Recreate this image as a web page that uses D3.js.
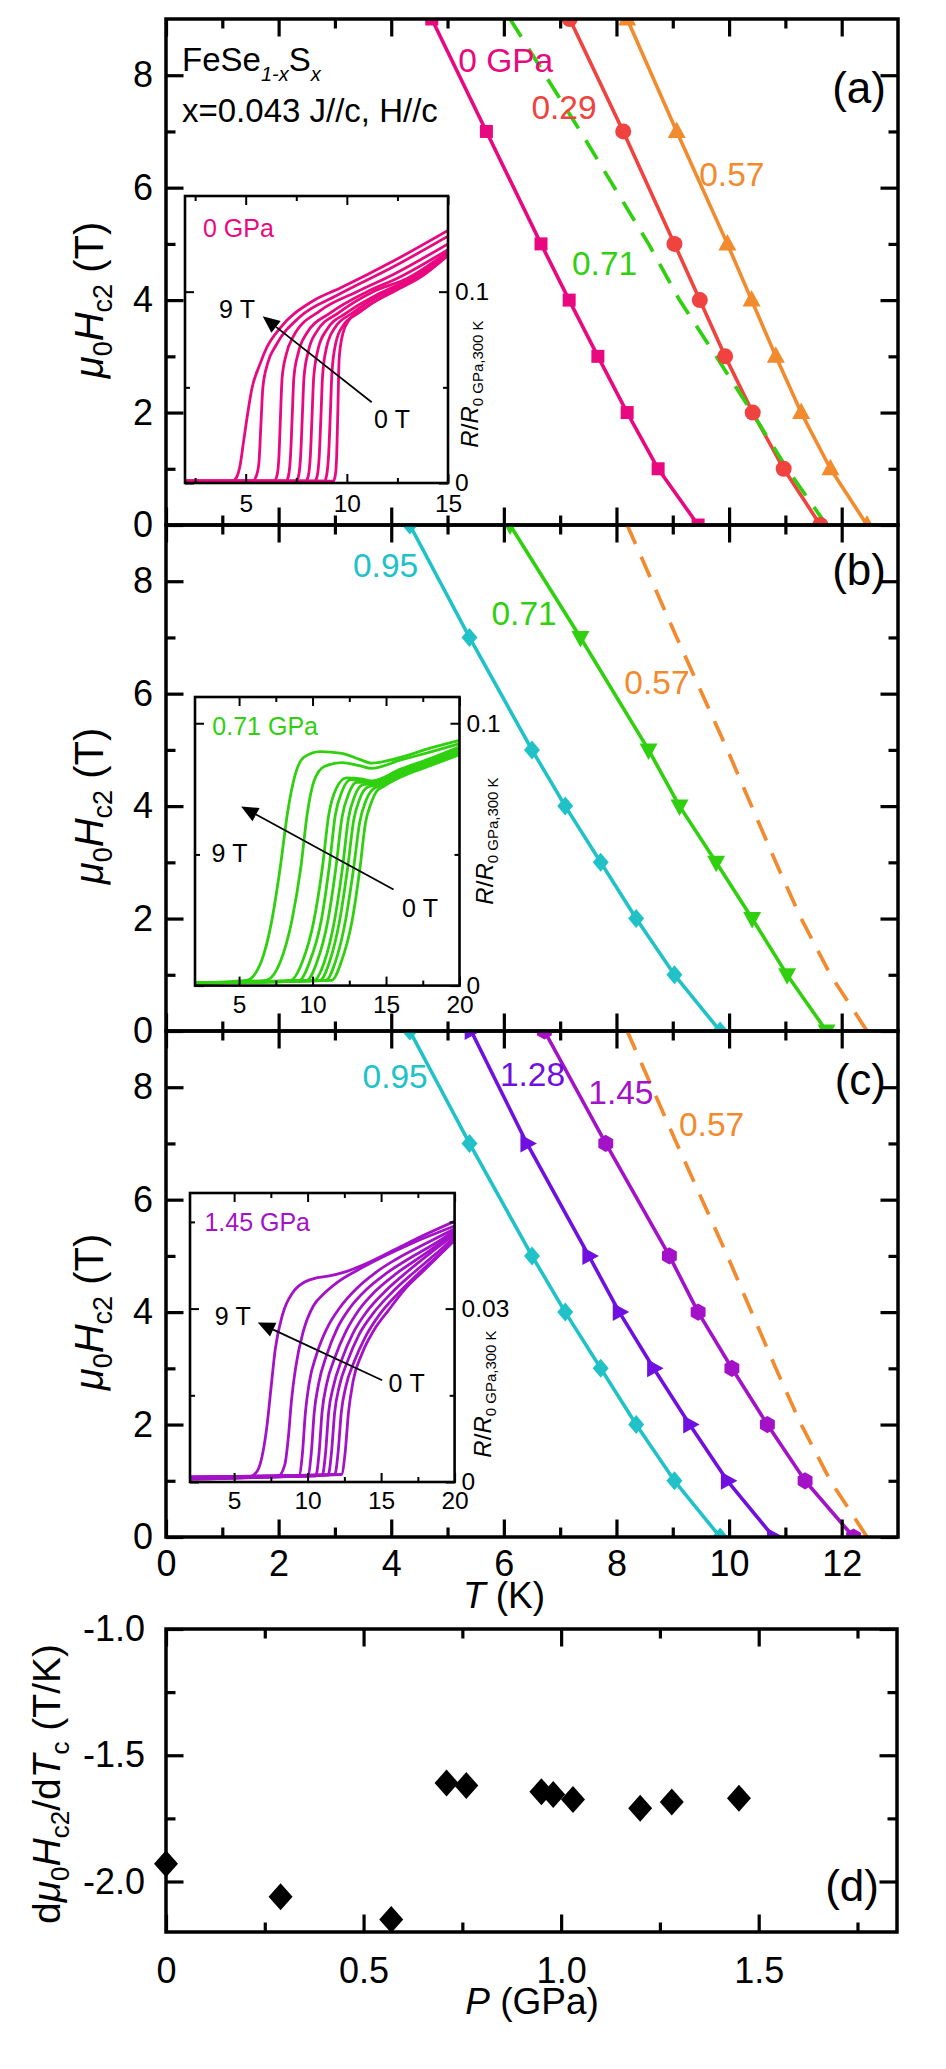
<!DOCTYPE html>
<html><head><meta charset="utf-8">
<script src="https://d3js.org/d3.v7.min.js"></script>
<style>html,body{margin:0;padding:0;background:#fff;}svg{display:block;}</style>
</head><body>
<svg id="chart" width="946" height="2069" xmlns="http://www.w3.org/2000/svg"></svg>
<script>
// ================= DATA =================
// applied magnetic field (T) for every Tc point of the Hc2(T) series
const fieldsT = [0, 1, 2, 3, 4, 5, 7, 9];
// Tc (K) at each field, one array per pressure
const tc_0GPa   = [9.45, 8.74, 8.19, 7.67, 7.16, 6.66, 5.69, 4.72];
const tc_029GPa = [11.62, 10.97, 10.42, 9.93, 9.48, 9.03, 8.12, 7.17];
const tc_057GPa = [12.45, 11.80, 11.28, 10.83, 10.40, 9.97, 9.07, 8.19];
const tc_071GPa = [11.73, 11.03, 10.41, 9.77, 9.12, 8.57, 7.36, 6.11];
const tc_095GPa = [9.84, 9.03, 8.35, 7.72, 7.09, 6.50, 5.39, 4.33];
const tc_128GPa = [10.79, 9.97, 9.30, 8.66, 8.05, 7.51, 6.41, 5.42];
const tc_145GPa = [12.21, 11.35, 10.68, 10.05, 9.45, 8.94, 7.81, 6.72];

const tTicks = [0, 2, 4, 6, 8, 10, 12];
const tMinor = [1, 3, 5, 7, 9, 11];
const hTicks = [0, 2, 4, 6, 8];
const hMinor = [1, 3, 5, 7];

// panel (d)
const pressureGPa = [0, 0.29, 0.57, 0.71, 0.76, 0.95, 0.98, 1.03, 1.20, 1.28, 1.45];
const slopeTK     = [-1.93, -2.06, -2.15, -1.61, -1.62, -1.645, -1.655, -1.675, -1.71, -1.685, -1.67];
const pTicks = [0, 0.5, 1.0, 1.5];
const pMinor = [0.25, 0.75, 1.25, 1.75];
const slopeTicks = [-2.0, -1.5, -1.0];
const slopeMinor = [-1.75, -1.25];

// inset (a): 0 GPa, R/R vs T  [T (K), R]
const rA_9T  = [[2,0.001],[4.35,0.001],[4.55,0.003],[4.72,0.009],[4.9,0.022],[5.05,0.033],[5.3,0.049],[5.7,0.062],[6.05,0.071],[6.7,0.081],[8.3,0.095],[9.7,0.102],[12.3,0.116],[15,0.132]];
const rA_7T  = [[2,0.001],[5.35,0.001],[5.5,0.003],[5.65,0.01],[5.75,0.03],[5.85,0.05],[6.1,0.063],[6.5,0.072],[7.7,0.087],[9.5,0.098],[12.3,0.113],[15,0.129]];
const rA_5T  = [[2,0.001],[6.4,0.001],[6.55,0.004],[6.65,0.015],[6.72,0.035],[6.8,0.055],[7.0,0.067],[7.35,0.0765],[8.67,0.09],[10.5,0.1],[12.3,0.109],[15,0.125]];
const rA_4T  = [[2,0.001],[7.0,0.001],[7.12,0.004],[7.22,0.015],[7.3,0.035],[7.38,0.055],[7.6,0.068],[8.0,0.078],[9.2,0.089],[11,0.1],[12.5,0.107],[15,0.122]];
const rA_3T  = [[2,0.001],[7.5,0.001],[7.62,0.004],[7.72,0.015],[7.8,0.035],[7.88,0.055],[8.1,0.069],[8.5,0.079],[9.6,0.089],[11.3,0.1],[13,0.107],[15,0.121]];
const rA_2T  = [[2,0.001],[7.98,0.001],[8.1,0.004],[8.2,0.015],[8.28,0.035],[8.36,0.055],[8.58,0.07],[9.0,0.08],[10.0,0.089],[11.6,0.099],[13.2,0.107],[15,0.12]];
const rA_1T  = [[2,0.001],[8.42,0.001],[8.54,0.004],[8.64,0.015],[8.72,0.035],[8.8,0.056],[9.0,0.071],[9.4,0.081],[10.3,0.089],[11.8,0.099],[13.4,0.107],[15,0.12]];
const rA_05T = [[2,0.001],[8.9,0.001],[9.0,0.004],[9.1,0.015],[9.18,0.035],[9.26,0.057],[9.45,0.073],[9.8,0.082],[10.6,0.089],[12,0.099],[13.5,0.107],[15,0.119]];
const rA_0T  = [[2,0.001],[9.33,0.001],[9.43,0.004],[9.5,0.015],[9.56,0.04],[9.62,0.065],[9.8,0.078],[10.1,0.085],[10.8,0.091],[12.3,0.1],[13.7,0.108],[15,0.119]];

// inset (b): 0.71 GPa
const rB_9T  = [[2,0.001],[5.5,0.002],[6.5,0.009],[7.2,0.024],[7.8,0.045],[8.3,0.066],[8.8,0.08],[9.4,0.087],[10.5,0.0892],[12,0.0885],[13.2,0.0862],[14,0.0848],[16,0.087],[18,0.0905],[20,0.0935]];
const rB_7T  = [[2,0.001],[6.8,0.002],[7.8,0.009],[8.6,0.025],[9.2,0.045],[9.65,0.066],[10.1,0.078],[10.8,0.0835],[12,0.085],[13.2,0.0838],[14,0.0828],[16,0.086],[18,0.089],[20,0.0922]];
const rB_5T  = [[2,0.001],[8.5,0.002],[9.3,0.009],[10.1,0.025],[10.67,0.045],[11.1,0.065],[11.6,0.075],[12.3,0.0792],[13.3,0.0788],[14,0.078],[16,0.0825],[18,0.0865],[20,0.091]];
const rB_4T  = [[2,0.001],[9.1,0.002],[9.8,0.009],[10.6,0.025],[11.13,0.045],[11.55,0.065],[12.0,0.074],[12.6,0.0785],[13.4,0.0782],[14.1,0.0778],[16,0.082],[18,0.086],[20,0.0905]];
const rB_3T  = [[2,0.001],[9.6,0.002],[10.3,0.009],[11.05,0.025],[11.59,0.045],[12.0,0.064],[12.45,0.073],[13.0,0.0775],[13.6,0.0775],[14.2,0.0775],[16,0.0815],[18,0.0855],[20,0.09]];
const rB_2T  = [[2,0.001],[10.1,0.002],[10.8,0.009],[11.5,0.025],[12.04,0.045],[12.45,0.064],[12.85,0.072],[13.4,0.0765],[14.2,0.077],[16,0.081],[18,0.085],[20,0.0895]];
const rB_1T  = [[2,0.001],[10.5,0.002],[11.15,0.009],[11.85,0.025],[12.39,0.045],[12.8,0.063],[13.2,0.071],[13.7,0.0755],[14.3,0.0765],[16,0.0805],[18,0.0845],[20,0.089]];
const rB_05T = [[2,0.001],[10.9,0.002],[11.55,0.009],[12.25,0.025],[12.8,0.045],[13.2,0.062],[13.6,0.07],[14.1,0.0748],[14.6,0.0762],[16,0.08],[18,0.084],[20,0.0885]];
const rB_0T  = [[2,0.001],[11.3,0.002],[11.95,0.009],[12.7,0.025],[13.23,0.045],[13.6,0.062],[13.95,0.069],[14.35,0.074],[14.8,0.0758],[16,0.0795],[18,0.0838],[20,0.088]];

// inset (c): 1.45 GPa
const rC_9T  = [[2,0.0005],[6.0,0.0008],[6.6,0.002],[6.95,0.005],[7.25,0.01],[7.5,0.016],[7.8,0.023],[8.3,0.029],[9.0,0.0328],[9.8,0.0346],[10.6,0.0353],[11.4,0.0356],[12.5,0.0363],[14,0.0378],[16,0.0403],[18,0.0428],[20,0.0451]];
const rC_7T  = [[2,0.0005],[8.0,0.001],[8.45,0.003],[8.7,0.008],[8.9,0.014],[9.2,0.02],[9.7,0.026],[10.4,0.0305],[11,0.0323],[12,0.0345],[13.5,0.0368],[15,0.0388],[17,0.0412],[20,0.0443]];
const rC_5T  = [[2,0.0006],[9.4,0.001],[9.65,0.005],[9.85,0.012],[10.1,0.017],[10.6,0.022],[11.3,0.0265],[12.2,0.0302],[13.3,0.0334],[14.6,0.0362],[16,0.0385],[18,0.0412],[20,0.0438]];
const rC_4T  = [[2,0.0007],[10.0,0.001],[10.25,0.005],[10.45,0.012],[10.75,0.017],[11.3,0.022],[12.0,0.0265],[12.9,0.0302],[14.0,0.0333],[15.3,0.036],[17,0.0388],[18.5,0.041],[20,0.0435]];
const rC_3T  = [[2,0.0007],[10.55,0.001],[10.78,0.005],[10.98,0.012],[11.3,0.017],[11.85,0.0215],[12.6,0.026],[13.5,0.0298],[14.6,0.033],[16,0.036],[18,0.0395],[20,0.0432]];
const rC_2T  = [[2,0.0008],[11.0,0.0012],[11.22,0.005],[11.43,0.012],[11.75,0.0165],[12.3,0.021],[13.1,0.0258],[14.0,0.0294],[15.2,0.0328],[16.6,0.036],[18.3,0.0395],[20,0.0428]];
const rC_1T  = [[2,0.0008],[11.4,0.0012],[11.62,0.005],[11.84,0.012],[12.15,0.0165],[12.7,0.0208],[13.5,0.0255],[14.5,0.0293],[15.7,0.0327],[17.2,0.0362],[18.6,0.0392],[20,0.0424]];
const rC_05T = [[2,0.0009],[11.85,0.0013],[12.07,0.005],[12.29,0.012],[12.6,0.0165],[13.15,0.0207],[13.95,0.0252],[14.9,0.029],[16.1,0.0325],[17.5,0.036],[18.8,0.039],[20,0.042]];
const rC_0T  = [[2,0.0009],[12.3,0.0013],[12.55,0.005],[12.78,0.012],[13.1,0.0175],[13.7,0.0222],[14.5,0.0262],[15.5,0.0297],[16.6,0.0333],[18,0.0368],[20,0.0418]];

// ================= STYLE =================
const FONT = "'Liberation Sans', Arial, Helvetica, sans-serif";
const C = {p0:'#e8087f', p029:'#f0423e', p057:'#f28a2e', p071:'#30d010', p095:'#20c2c8', p128:'#7010e0', p145:'#a412c8'};

const svg = d3.select('#chart').attr('font-family', FONT);
svg.append('rect').attr('width', 946).attr('height', 2069).attr('fill', '#fff');
const defs = svg.append('defs');

// marker shapes
function markerPath(type) {
  switch (type) {
    case 'square': return 'M-6.5,-6.5H6.5V6.5H-6.5Z';
    case 'circle': return d3.symbol(d3.symbolCircle, Math.PI * 8 * 8)();
    case 'triUp': return 'M0,-10L9,6.5L-9,6.5Z';
    case 'triDown': return 'M0,10L9,-6.5L-9,-6.5Z';
    case 'triRight': return 'M10,0L-6.5,-9L-6.5,9Z';
    case 'diamond': return 'M0,-9.5L8,0L0,9.5L-8,0Z';
    case 'bigDiamond': return 'M0,-13.5L12,0L0,13.5L-12,0Z';
    case 'hexagon': {
      const r = 8.6; const pts = d3.range(6).map(i => { const a = (-90 + 60 * i) * Math.PI / 180; return [r * Math.cos(a), r * Math.sin(a)]; });
      return 'M' + pts.map(p => p.join(',')).join('L') + 'Z';
    }
  }
}

function drawTicks(g, xs, ys, o) {
  const [xl, xr] = xs.range(); const [yb, yt] = ys.range();
  const add = (axisFn, scale, vals, len, tr, fmt, pad) => {
    const ax = axisFn(scale).tickValues(vals).tickSize(-len).tickPadding(pad || 0)
      .tickFormat(fmt ? fmt : () => '');
    const a = g.append('g').attr('transform', tr).call(ax);
    a.attr('font-family', null).attr('font-size', null);
    a.select('.domain').remove();
    a.selectAll('line').attr('stroke', '#000').attr('stroke-width', o.tickW);
    if (fmt) a.selectAll('text').attr('font-size', o.fs).attr('fill', '#000');
    else a.selectAll('text').remove();
  };
  add(d3.axisBottom, xs, o.xMaj, o.maj, `translate(0,${yb})`, o.xFmt, o.xPad);
  add(d3.axisBottom, xs, o.xMin, o.min, `translate(0,${yb})`);
  add(d3.axisTop, xs, o.xMaj, o.maj, `translate(0,${yt})`);
  add(d3.axisTop, xs, o.xMin, o.min, `translate(0,${yt})`);
  add(d3.axisLeft, ys, o.yMaj, o.maj, `translate(${xl},0)`, o.yLeftFmt, o.yPad);
  add(d3.axisLeft, ys, o.yMin, o.min, `translate(${xl},0)`);
  add(d3.axisRight, ys, o.yMaj, o.maj, `translate(${xr},0)`, o.yRightFmt, o.yPad);
  add(d3.axisRight, ys, o.yMin, o.min, `translate(${xr},0)`);
  g.append('rect').attr('x', xl).attr('y', yt).attr('width', xr - xl).attr('height', yb - yt)
    .attr('fill', 'none').attr('stroke', '#000').attr('stroke-width', o.borderW);
}

// ================= MAIN PANELS (a)-(c) =================
const xT = d3.scaleLinear().domain([0, 13]).range([166, 898]);
const PANEL_H = 506;
const panelTops = [19, 525, 1031];

const panels = [
  { tag: '(a)', tagY: 83.5,
    series: [
      { tc: tc_0GPa, color: C.p0, marker: 'square' },
      { tc: tc_029GPa, color: C.p029, marker: 'circle' },
      { tc: tc_057GPa, color: C.p057, marker: 'triUp' },
      { tc: tc_071GPa, color: C.p071, dashed: true }
    ],
    notes: [ ['0 GPa', 5.19, 8.05, C.p0], ['0.29', 6.49, 7.22, C.p029], ['0.57', 9.47, 6.03, C.p057], ['0.71', 7.21, 4.45, C.p071] ] },
  { tag: '(b)', tagY: 59.5,
    series: [
      { tc: tc_095GPa, color: C.p095, marker: 'diamond' },
      { tc: tc_071GPa, color: C.p071, marker: 'triDown' },
      { tc: tc_057GPa, color: C.p057, dashed: true }
    ],
    notes: [ ['0.95', 3.32, 8.08, C.p095], ['0.71', 5.78, 7.22, C.p071], ['0.57', 8.14, 5.99, C.p057] ] },
  { tag: '(c)', tagY: 63.5,
    series: [
      { tc: tc_095GPa, color: C.p095, marker: 'diamond' },
      { tc: tc_128GPa, color: C.p128, marker: 'triRight' },
      { tc: tc_145GPa, color: C.p145, marker: 'hexagon' },
      { tc: tc_057GPa, color: C.p057, dashed: true }
    ],
    notes: [ ['0.95', 3.49, 7.99, C.p095], ['1.28', 5.93, 8.02, C.p128], ['1.45', 7.50, 7.71, C.p145], ['0.57', 9.11, 7.14, C.p057] ] }
];

panels.forEach((p, i) => {
  const top = panelTops[i];
  const yH = d3.scaleLinear().domain([0, 9]).range([top + PANEL_H, top]);
  const g = svg.append('g');
  const cid = 'clipP' + i;
  defs.append('clipPath').attr('id', cid).append('rect')
    .attr('x', xT.range()[0]).attr('y', top).attr('width', xT.range()[1] - xT.range()[0]).attr('height', PANEL_H);
  const plot = g.append('g').attr('clip-path', `url(#${cid})`);
  const line = d3.line().x(d => xT(d[0])).y(d => yH(d[1]));
  const solid = p.series.filter(s => !s.dashed), dashed = p.series.filter(s => s.dashed);
  solid.forEach(s => {
    const pts = fieldsT.map((h, k) => [s.tc[k], h]);
    plot.append('path').attr('d', line(pts)).attr('fill', 'none').attr('stroke', s.color)
      .attr('stroke-width', 3.6).attr('stroke-linejoin', 'round');
  });
  dashed.forEach(s => {
    const pts = fieldsT.map((h, k) => [s.tc[k], h]);
    plot.append('path').attr('d', line(pts)).attr('fill', 'none').attr('stroke', s.color)
      .attr('stroke-width', 3.7).attr('stroke-dasharray', '22,14');
  });
  solid.forEach(s => {
    const pts = fieldsT.map((h, k) => [s.tc[k], h]);
    plot.selectAll(null).data(pts).join('path')
      .attr('transform', d => `translate(${xT(d[0])},${yH(d[1])})`)
      .attr('d', markerPath(s.marker)).attr('fill', s.color);
  });
  // labels on curves
  p.notes.forEach(n => {
    g.append('text').attr('x', xT(n[1])).attr('y', yH(n[2])).attr('font-size', 33.5).attr('fill', n[3]).text(n[0]);
  });
  drawTicks(g, xT, yH, { xMaj: tTicks, xMin: tMinor, yMaj: hTicks, yMin: hMinor, maj: 17.5, min: 9.5,
    tickW: 3.2, borderW: 3.5, fs: 36,
    xFmt: i === 2 ? d3.format('d') : null, xPad: 13,
    yLeftFmt: d3.format('d'), yRightFmt: null, yPad: 13 });
  // panel tag
  g.append('text').attr('x', 886).attr('y', top + p.tagY).attr('text-anchor', 'end').attr('font-size', 44).text(p.tag);
  // y axis title
  const t = svg.append('text').attr('transform', `translate(103,${top + PANEL_H / 2 + 28}) rotate(-90)`)
    .attr('text-anchor', 'middle').attr('font-size', 40);
  t.append('tspan').attr('font-style', 'italic').text('μ');
  t.append('tspan').attr('font-size', 27).attr('dy', 9).text('0');
  t.append('tspan').attr('font-style', 'italic').attr('dy', -9).text('H');
  t.append('tspan').attr('font-size', 27).attr('dy', 9).text('c2');
  t.append('tspan').attr('dy', -9).text('\u00A0(T)');
});

// composition text in (a)
{
  const t1 = svg.append('text').attr('x', 182).attr('y', 71).attr('font-size', 33);
  t1.append('tspan').text('FeSe');
  t1.append('tspan').attr('font-size', 20).attr('font-style', 'italic').attr('dy', 10).text('1-x');
  t1.append('tspan').attr('dy', -10).text('S');
  t1.append('tspan').attr('font-size', 20).attr('font-style', 'italic').attr('dy', 10).text('x');
  svg.append('text').attr('x', 182).attr('y', 122).attr('font-size', 33).text('x=0.043 J//c, H//c');
}

// T axis title
{
  const t = svg.append('text').attr('x', 504).attr('y', 1608).attr('text-anchor', 'middle').attr('font-size', 37);
  t.append('tspan').attr('font-style', 'italic').text('T');
  t.append('tspan').text('\u00A0(K)');
}

// ================= INSETS =================
const insets = [
  { x0: 185, x1: 448, y0: 196, y1: 483, xDom: [2, 15], yDom: [0, 0.15],
    xMaj: [5, 10, 15], xMin: [2.5, 7.5, 12.5], yMaj: [0, 0.1], yMin: [0.05],
    color: C.p0, curves: [rA_9T, rA_7T, rA_5T, rA_4T, rA_3T, rA_2T, rA_1T, rA_05T, rA_0T],
    title: ['0 GPa', 2.89, 0.1284], nine: [3.68, 0.0862], zero: [11.34, 0.029],
    arrow: [[11.23, 0.0422], [5.84, 0.0871]], rLabel: [478, 384], xPad: 12 },
  { x0: 195, x1: 459.5, y0: 697, y1: 985.6, xDom: [2, 20], yDom: [0, 0.11],
    xMaj: [5, 10, 15, 20], xMin: [7.5, 12.5, 17.5], yMaj: [0, 0.1], yMin: [0.05],
    color: C.p071, curves: [rB_9T, rB_7T, rB_5T, rB_4T, rB_3T, rB_2T, rB_1T, rB_05T, rB_0T],
    title: ['0.71 GPa', 3.18, 0.0956], nine: [3.12, 0.0472], zero: [16.08, 0.0261],
    arrow: [[15.51, 0.0366], [5.14, 0.0683]], rLabel: [493, 841], xPad: 10 },
  { x0: 190, x1: 454.6, y0: 1193, y1: 1482, xDom: [2, 20], yDom: [0, 0.05],
    xMaj: [5, 10, 15, 20], xMin: [7.5, 12.5, 17.5], yMaj: [0, 0.03], yMin: [0.015, 0.045],
    color: C.p145, curves: [rC_9T, rC_7T, rC_5T, rC_4T, rC_3T, rC_2T, rC_1T, rC_05T, rC_0T],
    title: ['1.45 GPa', 2.98, 0.0435], nine: [3.68, 0.0272], zero: [15.51, 0.0155],
    arrow: [[15.07, 0.0176], [6.61, 0.0276]], rLabel: [490.5, 1394], xPad: 10 }
];

insets.forEach((ins, i) => {
  const xs = d3.scaleLinear().domain(ins.xDom).range([ins.x0, ins.x1]);
  const ys = d3.scaleLinear().domain(ins.yDom).range([ins.y1, ins.y0]);
  const g = svg.append('g');
  g.append('rect').attr('x', ins.x0).attr('y', ins.y0).attr('width', ins.x1 - ins.x0).attr('height', ins.y1 - ins.y0).attr('fill', '#fff');
  const cid = 'clipI' + i;
  defs.append('clipPath').attr('id', cid).append('rect')
    .attr('x', ins.x0).attr('y', ins.y0).attr('width', ins.x1 - ins.x0).attr('height', ins.y1 - ins.y0);
  const plot = g.append('g').attr('clip-path', `url(#${cid})`);
  const line = d3.line().x(d => xs(d[0])).y(d => ys(d[1])).curve(d3.curveMonotoneX);
  ins.curves.forEach(c => {
    plot.append('path').attr('d', line(c)).attr('fill', 'none').attr('stroke', ins.color).attr('stroke-width', 2.8);
  });
  drawTicks(g, xs, ys, { xMaj: ins.xMaj, xMin: ins.xMin, yMaj: ins.yMaj, yMin: ins.yMin, maj: 9, min: 5,
    tickW: 2, borderW: 2.6, fs: 24.5, xFmt: d3.format('d'), xPad: ins.xPad,
    yLeftFmt: null, yRightFmt: d => d === 0 ? '0' : String(d), yPad: 7 });
  g.append('text').attr('x', xs(ins.title[1])).attr('y', ys(ins.title[2])).attr('font-size', 25).attr('fill', ins.color).text(ins.title[0]);
  g.append('text').attr('x', xs(ins.nine[0])).attr('y', ys(ins.nine[1])).attr('font-size', 25).text('9\u00A0T');
  g.append('text').attr('x', xs(ins.zero[0])).attr('y', ys(ins.zero[1])).attr('font-size', 25).text('0\u00A0T');
  // arrow 0 T -> 9 T
  const [a0, a1] = ins.arrow.map(d => [xs(d[0]), ys(d[1])]);
  const dx = a1[0] - a0[0], dy = a1[1] - a0[1], L = Math.hypot(dx, dy);
  const ux = dx / L, uy = dy / L, nx = -uy, ny = ux, hl = 17, hw = 7.5;
  const bx = a1[0] - ux * hl, by = a1[1] - uy * hl;
  g.append('line').attr('x1', a0[0]).attr('y1', a0[1]).attr('x2', bx).attr('y2', by).attr('stroke', '#000').attr('stroke-width', 1.7);
  g.append('path').attr('d', `M${a1[0]},${a1[1]}L${bx + nx * hw},${by + ny * hw}L${bx - nx * hw},${by - ny * hw}Z`).attr('fill', '#000');
  // R/R label (right side)
  const t = svg.append('text').attr('transform', `translate(${ins.rLabel[0]},${ins.rLabel[1]}) rotate(-90)`)
    .attr('text-anchor', 'middle').attr('font-size', 24);
  t.append('tspan').attr('font-style', 'italic').text('R');
  t.append('tspan').text('/');
  t.append('tspan').attr('font-style', 'italic').text('R');
  t.append('tspan').attr('font-size', 15).attr('dy', 5).text('0 GPa,300 K');
});

// ================= PANEL (d) =================
{
  const xP = d3.scaleLinear().domain([0, 1.85]).range([166, 897]);
  const yS = d3.scaleLinear().domain([-2.2, -1.0]).range([1932, 1629]);
  const g = svg.append('g');
  const pts = pressureGPa.map((p, k) => [p, slopeTK[k]]);
  g.selectAll(null).data(pts).join('path')
    .attr('transform', d => `translate(${xP(d[0])},${yS(d[1])})`)
    .attr('d', markerPath('bigDiamond')).attr('fill', '#000');
  drawTicks(g, xP, yS, { xMaj: pTicks, xMin: pMinor, yMaj: slopeTicks, yMin: slopeMinor, maj: 17.5, min: 9.5,
    tickW: 3.2, borderW: 3.5, fs: 36,
    xFmt: d => d === 0 ? '0' : d.toFixed(1), xPad: 25,
    yLeftFmt: d => d.toFixed(1), yRightFmt: null, yPad: 21 });
  g.append('text').attr('x', 879).attr('y', 1901).attr('text-anchor', 'end').attr('font-size', 44).text('(d)');
  const tp = svg.append('text').attr('x', 532).attr('y', 2014).attr('text-anchor', 'middle').attr('font-size', 37);
  tp.append('tspan').attr('font-style', 'italic').text('P');
  tp.append('tspan').text('\u00A0(GPa)');
  const t = svg.append('text').attr('transform', `translate(60,1784) rotate(-90)`).attr('text-anchor', 'middle').attr('font-size', 39);
  t.append('tspan').text('d');
  t.append('tspan').attr('font-style', 'italic').text('μ');
  t.append('tspan').attr('font-size', 26).attr('dy', 9).text('0');
  t.append('tspan').attr('font-style', 'italic').attr('dy', -9).text('H');
  t.append('tspan').attr('font-size', 26).attr('dy', 9).text('c2');
  t.append('tspan').attr('dy', -9).text('/d');
  t.append('tspan').attr('font-style', 'italic').text('T');
  t.append('tspan').attr('font-size', 26).attr('dy', 9).text('c');
  t.append('tspan').attr('dy', -9).text('\u00A0(T/K)');
}
</script>
</body></html>
